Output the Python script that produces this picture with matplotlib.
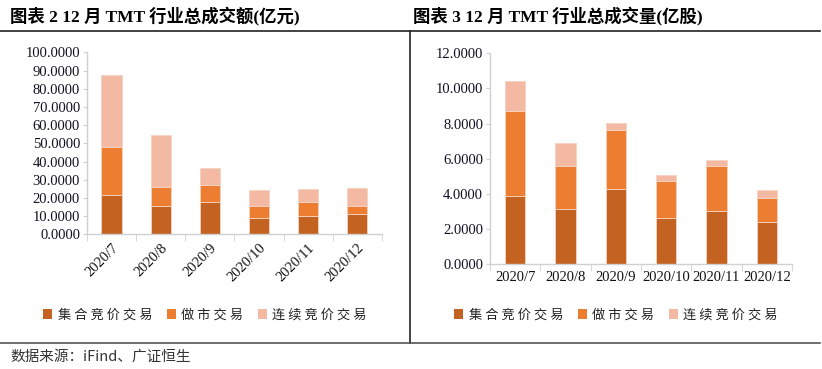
import matplotlib
matplotlib.use('Agg')
import matplotlib.pyplot as plt
from matplotlib.lines import Line2D
from matplotlib.patches import Patch
from matplotlib.ticker import FormatStrFormatter, FixedLocator
import numpy as np

# data
months = ['2020/7', '2020/8', '2020/9', '2020/10', '2020/11', '2020/12']
series_names = ['集合竞价交易', '做市交易', '连续竞价交易']

# turnover (亿元)
amt_call = [21.6, 15.5, 17.9, 9.2, 10.2, 11.3]
amt_mm = [26.2, 10.7, 9.2, 6.4, 7.7, 4.1]
amt_cont = [39.7, 28.4, 9.2, 8.8, 7.0, 9.9]

# volume (亿股)
vol_call = [3.90, 3.16, 4.30, 2.62, 3.05, 2.41]
vol_mm = [4.84, 2.43, 3.34, 2.14, 2.54, 1.36]
vol_cont = [1.70, 1.29, 0.38, 0.34, 0.33, 0.46]

colors = ['#C46321', '#ED7D31', '#F4B9A3']
serif = ['Liberation Serif', 'Noto Sans CJK SC']
cjk = ['Noto Sans CJK SC', 'DejaVu Sans']

fig = plt.figure(figsize=(8.22, 3.69), dpi=100)


def stacked(ax, parts, ymax, step):
    x = np.arange(len(months))
    bottom = np.zeros(len(months))
    for vals, c in zip(parts, colors):
        ax.bar(x, vals, 0.41, bottom=bottom, color=c, edgecolor='#f6d3c2', linewidth=0.6)
        bottom = bottom + np.array(vals)
    ax.set_xlim(-0.5, len(months) - 0.5)
    ax.set_ylim(0, ymax)
    ax.set_yticks(np.arange(0, ymax + step / 2, step))
    ax.yaxis.set_major_formatter(FormatStrFormatter('%.4f'))
    ax.set_xticks(x)
    ax.xaxis.set_minor_locator(FixedLocator(np.arange(-0.5, len(months), 1)))
    ax.tick_params(axis='x', which='major', length=0, pad=5)
    ax.tick_params(axis='x', which='minor', length=5, color='#d0d0d0', direction='out')
    ax.tick_params(axis='y', length=3, color='#d0d0d0', pad=2)
    for s in ['top', 'right']:
        ax.spines[s].set_visible(False)
    for s in ['left', 'bottom']:
        ax.spines[s].set_color('#d0d0d0')
        ax.spines[s].set_linewidth(1.0)
    for lab in ax.get_yticklabels():
        lab.set_family('Liberation Serif')
        lab.set_fontsize(10.5)
        lab.set_color('#111122')


ax1 = fig.add_axes([0.1058, 0.365, 0.3589, 0.4932])
stacked(ax1, [amt_call, amt_mm, amt_cont], 100, 10)
ax1.set_xticklabels(months, rotation=45, ha='right', rotation_mode='anchor',
                    family='Liberation Serif', fontsize=10.5, color='#111111')

ax2 = fig.add_axes([0.5961, 0.2837, 0.3674, 0.5718])
stacked(ax2, [vol_call, vol_mm, vol_cont], 12, 2)
ax2.set_xticklabels(months, family='Liberation Serif', fontsize=10.5, color='#111111')

handles = [Patch(facecolor=c, edgecolor='none') for c in colors]
labels = [' '.join(n) for n in series_names]
for cx in [205 / 822, 616 / 822]:
    fig.legend(handles, labels, loc='center', bbox_to_anchor=(cx, 1 - 315 / 369), ncol=3,
               frameon=False, prop={'family': cjk, 'size': 9.5}, handlelength=0.7,
               handleheight=0.7, handletextpad=0.4, columnspacing=1.1, labelcolor='#222222')

# titles
fig.text(10 / 822, 1 - 17 / 369, '图表 2 12 月 TMT 行业总成交额(亿元)', family=serif,
         fontsize=12.5, fontweight='bold', va='center', ha='left')
fig.text(413 / 822, 1 - 17 / 369, '图表 3 12 月 TMT 行业总成交量(亿股)', family=serif,
         fontsize=12.5, fontweight='bold', va='center', ha='left')
fig.text(10 / 822, 1 - 357 / 369, '数据来源：iFind、广证恒生', family=cjk,
         fontsize=10.5, va='center', ha='left', color='#333333')

# frame lines
ytop = 1 - 31 / 369
ybot = 1 - 343 / 369
fig.add_artist(Line2D([0, 409.5 / 822], [ytop, ytop], color='#222222', lw=1.2))
fig.add_artist(Line2D([411 / 822, 820 / 822], [ytop, ytop], color='#222222', lw=1.2))
fig.add_artist(Line2D([409.5 / 822, 409.5 / 822], [ytop, ybot], color='#222222', lw=1.2))
fig.add_artist(Line2D([0, 409.5 / 822], [ybot, ybot], color='#555555', lw=1.2))
fig.add_artist(Line2D([411 / 822, 820 / 822], [ybot, ybot], color='#555555', lw=1.2))

fig.savefig('out.png', dpi=100)
